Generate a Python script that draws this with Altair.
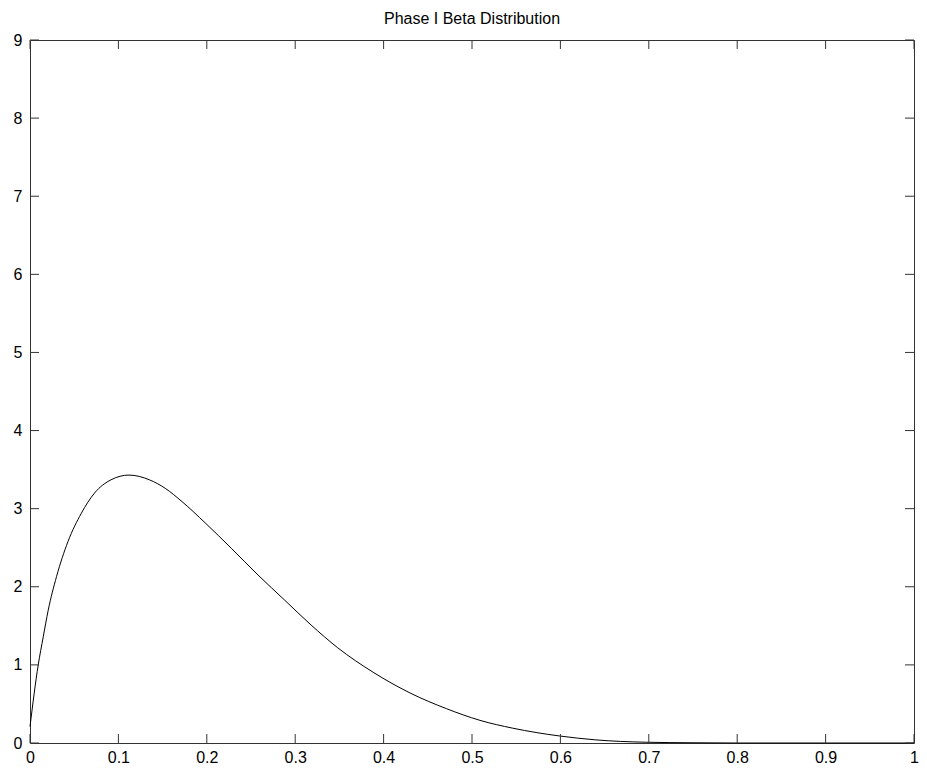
import altair as alt
import pandas as pd

# Curve values
xs = [0, 0.0093, 0.015, 0.0206, 0.030, 0.043, 0.058, 0.073, 0.0917, 0.112,
      0.135, 0.153, 0.172, 0.198, 0.228, 0.258, 0.288, 0.318, 0.348, 0.389,
      0.430, 0.471, 0.509, 0.546, 0.599, 0.640, 0.696, 0.75, 0.8, 0.9, 1.0]
ys = [0.21, 1.00, 1.36, 1.70, 2.13, 2.58, 2.94, 3.20, 3.37, 3.43,
      3.37, 3.26, 3.09, 2.82, 2.49, 2.15, 1.83, 1.51, 1.22, 0.90,
      0.64, 0.44, 0.29, 0.19, 0.09, 0.04, 0.01, 0.003, 0.0, 0.0, 0.0]

x_ticks = [0, 0.1, 0.2, 0.3, 0.4, 0.5, 0.6, 0.7, 0.8, 0.9, 1.0]
y_ticks = [0, 1, 2, 3, 4, 5, 6, 7, 8, 9]

W, H = 884, 703
TL = 9
FONT = "Liberation Sans"
BOX = "#333333"

curve = pd.DataFrame({"x": xs, "y": ys})
xt = pd.DataFrame({"x": x_ticks})
yt = pd.DataFrame({"y": y_ticks})

xscale = alt.Scale(domain=[0, 1], nice=False, zero=False)
yscale = alt.Scale(domain=[0, 9], nice=False, zero=False)

xaxis = alt.Axis(values=x_ticks, format="~g", domain=False, ticks=False, grid=False,
                 labelPadding=6, labelFontSize=16, labelFont=FONT, labelColor="black",
                 labelFlush=False)
yaxis = alt.Axis(values=y_ticks, format="~g", domain=False, ticks=False, grid=False,
                 labelPadding=8, labelFontSize=16, labelFont=FONT, labelColor="black",
                 labelFlush=False)

X = alt.X("x:Q", scale=xscale, title=None, axis=xaxis)
Y = alt.Y("y:Q", scale=yscale, title=None, axis=yaxis)

line = alt.Chart(curve).mark_line(color="black", strokeWidth=1, interpolate="monotone").encode(
    x=X, y=Y)

bottom = alt.Chart(xt).mark_rule(color=BOX, strokeWidth=1).encode(
    x=X, y=alt.value(H), y2=alt.value(H - TL))
top = alt.Chart(xt).mark_rule(color=BOX, strokeWidth=1).encode(
    x=X, y=alt.value(0), y2=alt.value(TL))
left = alt.Chart(yt).mark_rule(color=BOX, strokeWidth=1).encode(
    y=Y, x=alt.value(0), x2=alt.value(TL))
right = alt.Chart(yt).mark_rule(color=BOX, strokeWidth=1).encode(
    y=Y, x=alt.value(W), x2=alt.value(W - TL))

chart = alt.layer(line, bottom, top, left, right).properties(
    width=W, height=H,
    autosize=alt.AutoSizeParams(type="none"),
    padding={"left": 22, "top": 32, "right": 5, "bottom": 24},
    title=alt.TitleParams("Phase I Beta Distribution", fontSize=16, font=FONT,
                          fontWeight="normal", color="black", offset=5),
).configure(background="white").configure_view(stroke=BOX, strokeWidth=1)

chart.save("out.html", embed_options={"renderer": "svg", "actions": False})
